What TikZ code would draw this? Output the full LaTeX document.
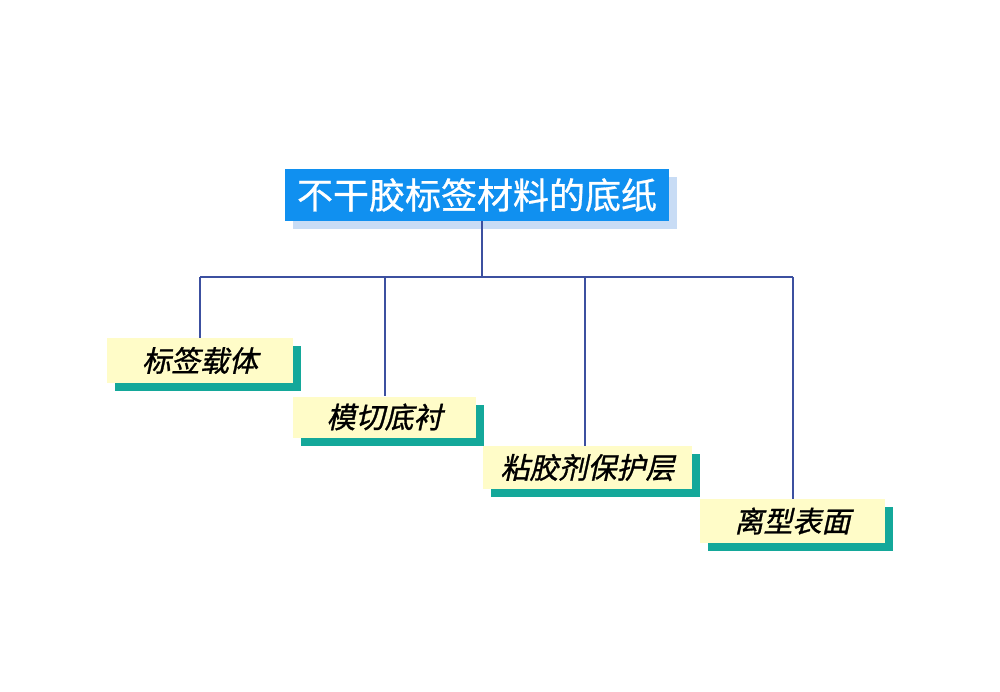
\documentclass[tikz,border=0pt]{standalone}
\usepackage{fontspec}
\newfontfamily\cjk[FakeBold=0.8]{Noto Sans CJK SC}
\newfontfamily\cjkit[FakeSlant=0.22,FakeBold=1.0]{Noto Sans CJK SC}
\usetikzlibrary{shadows}
\definecolor{titleblue}{RGB}{16,144,240}
\definecolor{titleshadow}{RGB}{200,220,245}
\definecolor{boxyellow}{RGB}{255,252,200}
\definecolor{boxteal}{RGB}{20,168,154}
\definecolor{linec}{RGB}{60,80,160}
\tikzset{
  titlebox/.style={fill=titleblue, text=white, inner sep=0pt, font=\cjk\fontsize{36}{38}\selectfont,
    minimum width=384pt, minimum height=52pt,
    drop shadow={shadow xshift=8pt, shadow yshift=-8pt, fill=titleshadow, opacity=1}},
  leafbox/.style={fill=boxyellow, text=black, inner sep=0pt, font=\cjkit\fontsize{29}{31}\selectfont,
    drop shadow={shadow xshift=8pt, shadow yshift=-8pt, fill=boxteal, opacity=1}},
  conn/.style={draw=linec, line width=1.1pt}
}
\begin{document}
\begin{tikzpicture}[x=1pt,y=-1pt]
\useasboundingbox (0,0) rectangle (1000,692);
\node[titlebox] (title) at (477,195) {不干胶标签材料的底纸};
\node[leafbox, minimum width=186pt, minimum height=45pt] (b1) at (200,360.5) {标签载体};
\node[leafbox, minimum width=183pt, minimum height=41pt] (b2) at (384.5,417) {模切底衬};
\node[leafbox, minimum width=209pt, minimum height=43pt] (b3) at (587.5,467.5) {粘胶剂保护层};
\node[leafbox, minimum width=185pt, minimum height=44pt] (b4) at (792.5,521) {离型表面};
\coordinate (top) at (482,221);
\coordinate (hub) at (482,277);
\coordinate (j1) at (200,277);
\coordinate (j2) at (385,277);
\coordinate (j3) at (585,277);
\coordinate (j4) at (793,277);
\draw[conn] (top) -- (hub);
\draw[conn] (j1) -- (j4);
\draw[conn] (j1) -- (j1 |- b1.north);
\draw[conn] (j2) -- (j2 |- b2.north);
\draw[conn] (j3) -- (j3 |- b3.north);
\draw[conn] (j4) -- (j4 |- b4.north);
\end{tikzpicture}
\end{document}
